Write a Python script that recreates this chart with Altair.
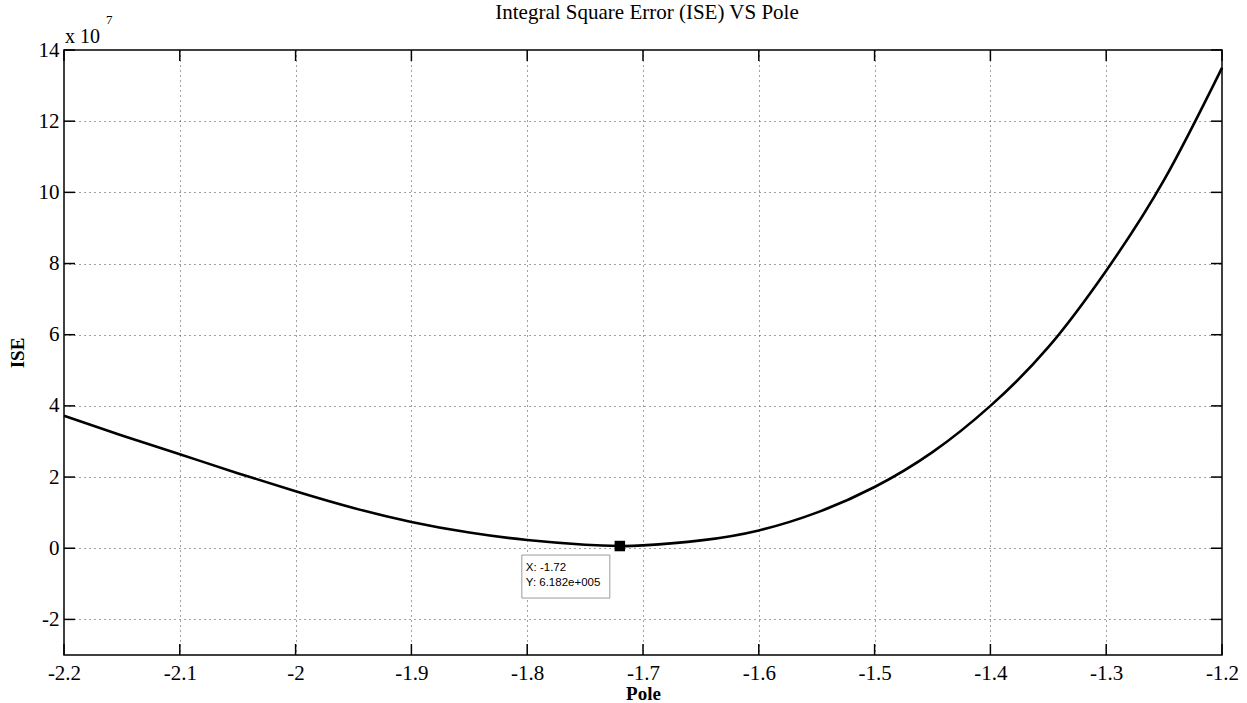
import altair as alt
import pandas as pd

# Curve values (ISE in units of 1e7)
pole = [-2.2, -2.15, -2.1, -2.05, -2.0, -1.95, -1.9, -1.85, -1.8, -1.75, -1.72,
        -1.7, -1.65, -1.6, -1.55, -1.5, -1.45, -1.4, -1.35, -1.3, -1.25, -1.2]
ise = [3.72, 3.17, 2.64, 2.11, 1.60, 1.13, 0.74, 0.44, 0.23, 0.10, 0.0618,
       0.08, 0.22, 0.50, 1.00, 1.72, 2.70, 4.00, 5.65, 7.80, 10.35, 13.5]

x_ticks = [-2.2, -2.1, -2.0, -1.9, -1.8, -1.7, -1.6, -1.5, -1.4, -1.3, -1.2]
y_ticks = [-2, 0, 2, 4, 6, 8, 10, 12, 14]

tip_x = [-1.72]
tip_y = [0.06182]
tip_lines = ["X: -1.72", "Y: 6.182e+005"]

title_text = "Integral Square Error (ISE) VS Pole"

W, H = 1158, 605
TICK = 11
SERIF = "Liberation Serif"

curve = pd.DataFrame({"pole": pole, "ise": ise})
xt = pd.DataFrame({"v": x_ticks})
yt = pd.DataFrame({"v": y_ticks})
tip = pd.DataFrame({"x": tip_x, "y": tip_y})

xscale = alt.Scale(domain=[-2.2, -1.2], nice=False, zero=False)
yscale = alt.Scale(domain=[-3, 14], nice=False, zero=False)

xaxis = alt.Axis(values=x_ticks, labelExpr="'' + datum.value", grid=True,
                 ticks=False, tickSize=0, domain=False, labelPadding=7,
                 title="Pole", titleBaseline="alphabetic", titleY=44,
                 labelFlush=False)
yaxis = alt.Axis(values=y_ticks, labelExpr="'' + datum.value", grid=True,
                 ticks=False, tickSize=0, domain=False, labelPadding=5,
                 title="ISE", titlePadding=11)

line = alt.Chart(curve).mark_line(color="black", strokeWidth=2.6, interpolate="natural").encode(
    x=alt.X("pole:Q", scale=xscale, axis=xaxis),
    y=alt.Y("ise:Q", scale=yscale, axis=yaxis),
)

top_ticks = alt.Chart(xt).mark_rule(color="black", strokeWidth=1.5).encode(
    x=alt.X("v:Q", scale=xscale), y=alt.value(0), y2=alt.value(TICK))
bot_ticks = alt.Chart(xt).mark_rule(color="black", strokeWidth=1.5).encode(
    x=alt.X("v:Q", scale=xscale), y=alt.value(H - TICK), y2=alt.value(H))
left_ticks = alt.Chart(yt).mark_rule(color="black", strokeWidth=1.5).encode(
    y=alt.Y("v:Q", scale=yscale), x=alt.value(0), x2=alt.value(TICK))
right_ticks = alt.Chart(yt).mark_rule(color="black", strokeWidth=1.5).encode(
    y=alt.Y("v:Q", scale=yscale), x=alt.value(W - TICK), x2=alt.value(W))

box = alt.Chart(tip).mark_rect(fill="white", stroke="#9a9a9a", strokeWidth=1,
                               xOffset=-98, x2Offset=-10, yOffset=9, y2Offset=52).encode(
    x=alt.X("x:Q", scale=xscale), x2="x:Q",
    y=alt.Y("y:Q", scale=yscale), y2="y:Q")
marker = alt.Chart(tip).mark_square(color="black", size=110, opacity=1).encode(
    x=alt.X("x:Q", scale=xscale), y=alt.Y("y:Q", scale=yscale))
t1 = alt.Chart(tip).mark_text(text=tip_lines[0], align="left", baseline="middle",
                              dx=-94, dy=22, font="Liberation Sans", fontSize=11.5,
                              color="black").encode(
    x=alt.X("x:Q", scale=xscale), y=alt.Y("y:Q", scale=yscale))
t2 = alt.Chart(tip).mark_text(text=tip_lines[1], align="left", baseline="middle",
                              dx=-94, dy=37, font="Liberation Sans", fontSize=11.5,
                              color="black").encode(
    x=alt.X("x:Q", scale=xscale), y=alt.Y("y:Q", scale=yscale))

exp_base = alt.Chart(tip).mark_text(text="x 10", align="left", baseline="alphabetic",
                                    font=SERIF, fontSize=20, color="black").encode(
    x=alt.value(1), y=alt.value(-7))
exp_pow = alt.Chart(tip).mark_text(text="7", align="left", baseline="middle",
                                   font=SERIF, fontSize=13, color="black").encode(
    x=alt.value(42), y=alt.value(-30))

title_mark = alt.Chart(tip).mark_text(text=title_text, align="center", baseline="alphabetic",
                                      font=SERIF, fontSize=21, color="black").encode(
    x=alt.value(W / 2 + 4), y=alt.value(-31))

chart = alt.layer(line, top_ticks, bot_ticks, left_ticks, right_ticks,
                  box, marker, t1, t2, exp_base, exp_pow, title_mark).properties(
    width=W, height=H,
    autosize=alt.AutoSizeParams(type="none"),
    padding={"left": 64, "top": 50, "right": 25, "bottom": 48},
    background="white",
).configure_view(stroke="black", strokeWidth=1.5).configure_axis(
    labelFont=SERIF, labelFontSize=21, labelColor="black",
    titleFont=SERIF, titleFontSize=19, titleFontWeight="bold", titleColor="black",
    gridColor="#444444", gridDash=[1, 4], gridWidth=1, gridOpacity=1,
)

chart.save("out.html", embed_options={"renderer": "svg", "actions": False})
